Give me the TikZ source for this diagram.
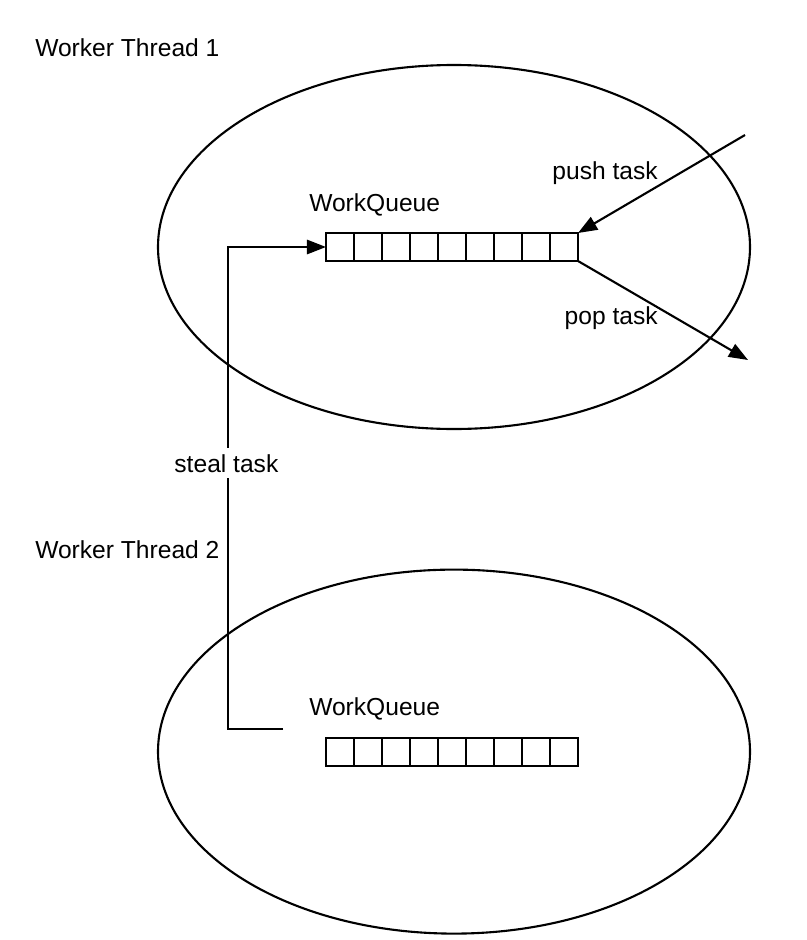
\documentclass[tikz,border=0pt]{standalone}
\usepackage{fontspec}
\setmainfont{Liberation Sans}
\usetikzlibrary{shapes}
\usetikzlibrary{positioning}
\usetikzlibrary{arrows.meta}
\tikzset{
    cell/.style = {rectangle, draw=black, line width=1.5pt, outer sep=0pt, inner sep=0pt, minimum width=0.7cm, minimum height=0.7cm},
    mythread/.style = {ellipse, draw=black, line width=1.5pt, minimum width=14.8cm, minimum height=9.1cm},
    mylabel/.style = {anchor=base west, inner sep=0pt, font=\fontsize{17.5}{21}\selectfont},
    mylabelr/.style = {anchor=base east, inner sep=0pt, font=\fontsize{17.5}{21}\selectfont},
    edgen/.style = {-{Triangle[length=0.48cm,width=0.36cm]}, line width=1.5pt},
}
\begin{document}
\begin{tikzpicture}
\path[use as bounding box] (0,0) rectangle (20.15,-23.5);
%
\node[mythread] at (11.35,-6.175) (t1) {};
\node[mythread] at (11.35,-18.79) (t2) {};
%
\node[cell] at (8.5,-6.175) (q1-1) {};
\foreach \i [count=\j from 1] in {2,...,9}
    \node[cell,right=0cm of q1-\j] (q1-\i) {};
\node[cell] at (8.5,-18.8) (q2-1) {};
\foreach \i [count=\j from 1] in {2,...,9}
    \node[cell,right=0cm of q2-\j] (q2-\i) {};
%
\node[mylabel] at (0.875,-1.425) (w1) {Worker Thread 1};
\node[mylabel] at (0.875,-13.95) (w2) {Worker Thread 2};
\node[mylabel] at (7.725,-5.275) (wq1) {WorkQueue};
\node[mylabel] at (7.725,-17.875) (wq2) {WorkQueue};
\node[mylabelr] at (16.45,-4.475) (push) {push task};
\node[mylabelr] at (16.45,-8.1) (pop) {pop task};
%
\coordinate (pushin) at (18.625,-3.375);
\coordinate (popout) at (18.7,-9.0);
\coordinate (stealfrom) at (7.075,-18.225);
%
\draw[edgen] (pushin) -- (q1-9.north east);
\draw[edgen] (q1-9.south east) -- (popout);
\draw[edgen] (stealfrom) -- ++(-1.375,0) |- (q1-1.west);
\node[mylabel,anchor=base,fill=white,inner ysep=0.15cm] at (5.66,-11.8) (steal) {steal task};

\end{tikzpicture}
\end{document}
